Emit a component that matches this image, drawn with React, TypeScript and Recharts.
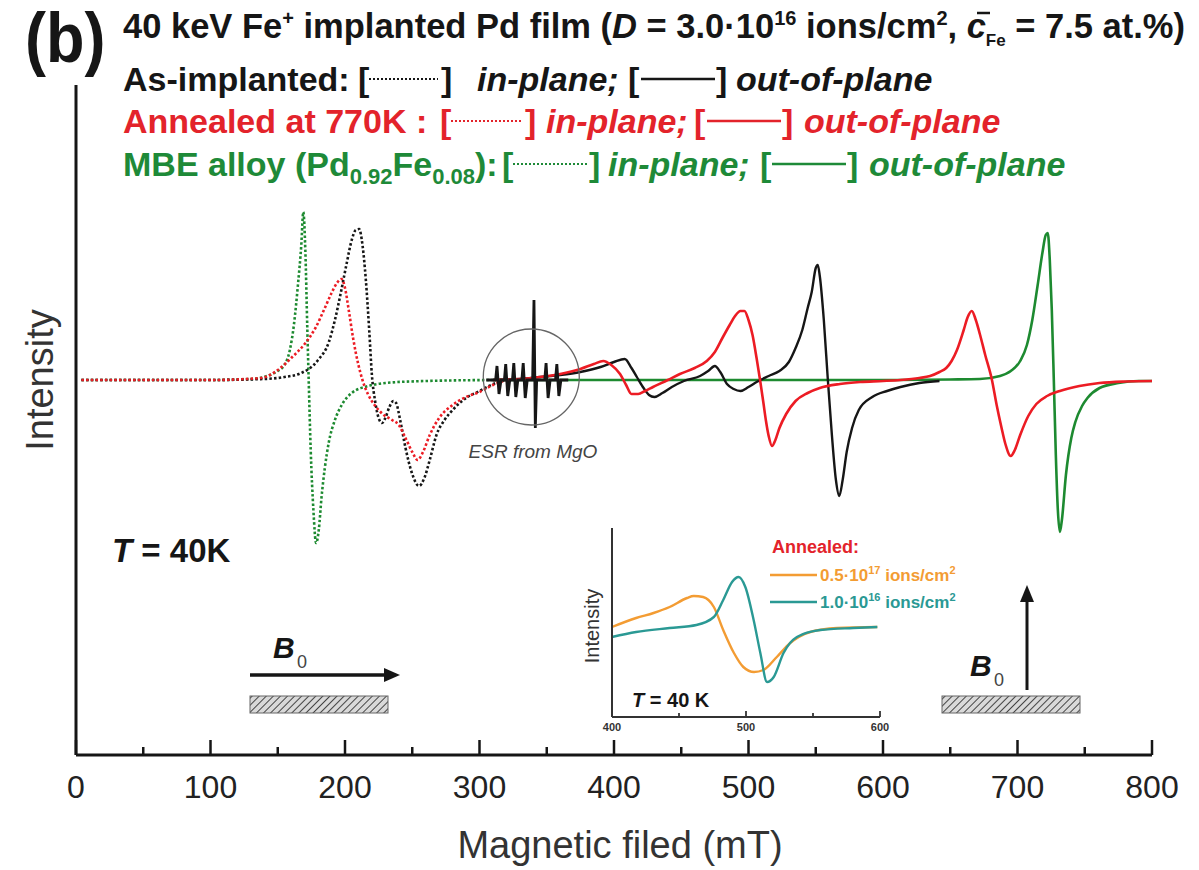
import { LineChart, Line, XAxis, YAxis, ReferenceDot, Customized } from "recharts";

type Pt = { x: number; y: number };
const pts = (rows: number[][]): Pt[] => rows.map(([x, y]) => ({ x, y }));

const FONT = "'Liberation Sans', Arial, Helvetica, sans-serif";
const BLACK = "#161616";
const RED = "#ec1c24";
const GREEN = "#1d8a30";
const RED_TXT = "#e3232b";
const GREEN_TXT = "#1e8a38";
const ORANGE = "#f39c33";
const TEAL = "#2a9994";

// field axis (mT)
const FIELD_TICKS = [0, 50, 100, 150, 200, 250, 300, 350, 400, 450, 500, 550, 600, 650, 700, 750, 800];
const INSET_TICKS = [400, 450, 500, 550, 600];

// as-implanted, in-plane (dotted black)
const asImplantedIn = pts([
  [4, 0], [100, 0], [140, 1], [155, 3], [167.5, 7], [180, 20], [188, 38], [192.5, 60], [197, 88],
  [201, 115], [205, 140], [208, 150], [210.5, 151], [213, 135], [215.5, 100], [218, 50], [220, 5],
  [222.5, -22], [225, -38], [227.5, -43], [230, -38], [233, -27], [236, -21], [238, -23], [241, -40],
  [245, -68], [250, -94], [255, -106], [259, -98], [263, -80], [268, -55], [274, -40], [280, -30],
  [290, -18], [300, -11], [312, -3], [320, 0],
]);

// annealed at 770K, in-plane (dotted red)
const annealedIn = pts([
  [4, 0], [100, 0], [137.5, 2], [150, 10], [160, 22], [170, 36], [178, 52], [185, 72], [190, 87],
  [194, 97], [197.5, 101], [200, 92], [203, 68], [206, 42], [210, 15], [213, 0], [217, -14],
  [222, -25], [228, -34], [235, -40], [240, -45], [245, -58], [250, -72], [254, -80], [258, -72],
  [263, -55], [270, -38], [280, -25], [290, -17], [300, -12], [310, -5], [320, 0],
]);

// MBE alloy, in-plane (dotted green)
const mbeIn = pts([
  [4, 0], [100, 0], [130, 1], [142, 4], [150, 9], [155, 15], [159, 30], [162, 55], [165, 95],
  [167.5, 135], [169, 168], [170.5, 130], [172, 50], [173, 0], [174.5, -70], [176.5, -130],
  [178.5, -163], [180.5, -150], [182.5, -118], [185, -88], [188, -62], [192.5, -40], [198, -24],
  [205, -13], [217.5, -6], [230, -3], [260, -1], [310, 0],
]);

// as-implanted, out-of-plane (solid black)
const asImplantedOut = pts([
  [310, 0], [330, 1], [345, 3], [360, 5], [375, 8], [390, 13], [400, 18], [408, 21], [413, 12],
  [417, 3], [422, -8], [426, -15], [430, -17], [436, -13], [443, -7], [452, -1], [464, 4], [470, 9],
  [475, 14], [479, 8], [484, -4], [489, -9], [494, -11], [500, -7], [506, -2], [515, 4], [523, 9],
  [530, 18], [535, 32], [540, 50], [544, 72], [547, 88], [550, 112], [551.5, 115], [553, 104],
  [556, 60], [559, 0], [562, -55], [565, -100], [567.5, -116], [570, -100], [573, -72], [577, -48],
  [582, -30], [592, -17], [603, -11], [613, -7], [627, -3], [642, -1],
]);

// annealed at 770K, out-of-plane (solid red)
const annealedOut = pts([
  [310, 0], [330, 1], [345, 3], [360, 6], [375, 11], [385, 16], [392, 19], [398, 15], [404.5, 6],
  [409, -5], [413, -14], [418, -14], [423, -11], [429, -7], [440, 0], [449, 6], [460, 12], [469, 19],
  [475, 28], [481, 43], [486, 55], [490, 64], [494, 69], [497, 69], [500, 60], [503, 45], [506, 22],
  [508.6, 0], [511, -22], [513, -41], [515, -56], [517.5, -66], [520, -60], [523, -48], [528, -34],
  [535, -21], [544, -13], [553, -8], [568, -4], [583, -2], [600, -1], [613, 0], [627, 2], [635, 4],
  [642, 8], [647, 12], [651, 19], [655, 30], [660, 50], [663, 63], [666, 69], [669, 60], [672, 46],
  [676, 25], [681, 0], [684.5, -25], [688, -47], [691, -64], [695, -76], [698, -70], [702, -55],
  [708, -36], [714, -24], [722, -16], [731.5, -11], [746, -6], [761, -3], [780, -1.5], [800, -1],
]);

// MBE alloy, out-of-plane (solid green)
const mbeOut = pts([
  [310, 0], [400, 0], [500, 0], [600, 0], [650, 0.5], [672, 1], [687, 4], [695, 9], [702, 19],
  [707, 35], [711, 60], [715, 95], [718.5, 127], [721, 145], [722.5, 147], [724, 120], [725.5, 70],
  [727, 0], [728.5, -75], [730, -130], [731.5, -152], [733, -140], [736, -95], [740, -58],
  [743, -42], [748, -26], [752, -18], [761, -8], [775, -3], [790, -1], [800, -1],
]);

// ESR lines of the MgO substrate
const mgoLines = pts([
  [305, 0], [312, 0], [313, 14], [314.5, -14], [316, 0], [318.5, 0], [319.5, 16], [321, -16],
  [322.5, 0], [324.5, 0], [325.5, 17], [327, -17], [328.5, 0], [331.5, 0], [332.5, 17], [334, -18],
  [335.5, 0], [339.5, 0], [340.5, 80], [341.5, -48], [342.5, 0], [348.5, 0], [349.5, 17], [351, -18],
  [352.5, 0], [356.5, 0], [357.5, 16], [359, -16], [360.5, 0], [366, 0],
]);

// inset: annealed samples, out-of-plane
const inset05e17 = pts([
  [400, 90], [418, 99], [431, 104], [443, 110], [456, 119], [461, 121], [468, 120], [476, 110],
  [483, 87], [491, 64], [498, 50], [506, 45], [513, 47], [523, 60], [533, 74], [548, 85],
  [568, 89], [598, 90],
]);
const inset10e16 = pts([
  [400, 80], [418, 85], [443, 89], [463, 92], [476, 100], [483, 117], [489.6, 135], [494.5, 140],
  [499.5, 130], [505.7, 97], [510.7, 64], [515.7, 35], [520.7, 40], [528, 64], [538, 80],
  [555.5, 87], [580, 89], [598, 90],
]);

function FieldTick(props: any) {
  const { x, y, payload } = props;
  const major = payload.value % 100 === 0;
  return (
    <g>
      <line x1={x} x2={x} y1={y} y2={y - (major ? 15 : 8)} stroke={BLACK} strokeWidth={2.5} />
      {major && (
        <text x={x} y={y + 43} textAnchor="middle" fontSize={32} fill="#222" fontFamily={FONT}>
          {payload.value}
        </text>
      )}
    </g>
  );
}

function InsetTick(props: any) {
  const { x, y, payload } = props;
  const major = payload.value % 100 === 0;
  return (
    <g>
      <line x1={x} x2={x} y1={y} y2={y - (major ? 6 : 4)} stroke="#333" strokeWidth={1.8} />
      {major && (
        <text x={x} y={y + 14} textAnchor="middle" fontSize={11} fontWeight="bold" fill="#333" fontFamily={FONT}>
          {payload.value}
        </text>
      )}
    </g>
  );
}

function LegendRow({ y, color, xs, children }: { y: number; color: string; xs: number[]; children: any }) {
  const [b1, d0, d1, b2, ip, b3, s0, s1, b4, op] = xs;
  const ly = y - 12;
  return (
    <g fill={color} fontSize={34} fontWeight="bold">
      <text x={123} y={y}>{children}</text>
      <text x={b1} y={y}>[</text>
      <line x1={d0} x2={d1} y1={ly} y2={ly} stroke={color} strokeWidth={2} strokeDasharray="2 2" />
      <text x={b2} y={y}>]</text>
      <text x={ip} y={y} fontStyle="italic">in-plane;</text>
      <text x={b3} y={y}>[</text>
      <line x1={s0} x2={s1} y1={ly} y2={ly} stroke={color} strokeWidth={2.5} />
      <text x={b4} y={y}>]</text>
      <text x={op} y={y} fontStyle="italic">out-of-plane</text>
    </g>
  );
}

function Annotations() {
  return (
    <g fontFamily={FONT}>
      <defs>
        <pattern id="hatch" width="5" height="5" patternUnits="userSpaceOnUse" patternTransform="rotate(45)">
          <rect width="5" height="5" fill="#d9d9d9" />
          <line x1="0" y1="0" x2="0" y2="5" stroke="#444" strokeWidth="2" />
        </pattern>
      </defs>

      <text x={0} y={0} fontSize={70} fontWeight="bold" fill={BLACK} transform="translate(25 62) scale(0.9 1)">
        (b)
      </text>
      <text x={123} y={38} fontSize={34.5} fontWeight="bold" fill={BLACK}>
        40 keV Fe<tspan dy={-13} fontSize={20}>+</tspan>
        <tspan dy={13}> implanted Pd film (</tspan>
        <tspan fontStyle="italic">D</tspan>
        <tspan> = 3.0·10</tspan>
        <tspan dy={-13} fontSize={20}>16</tspan>
        <tspan dy={13}> ions/cm</tspan>
        <tspan dy={-13} fontSize={20}>2</tspan>
        <tspan dy={13}>, </tspan>
        <tspan fontStyle="italic">c</tspan>
        <tspan dy={8} fontSize={17}>Fe</tspan>
        <tspan dy={-8}> = 7.5 at.%)</tspan>
      </text>
      <line x1={977} x2={990} y1={13} y2={13} stroke={BLACK} strokeWidth={2.5} />

      <LegendRow y={91} color={BLACK} xs={[358, 369, 438, 441, 477, 628, 641, 715, 716, 736]}>
        As-implanted:
      </LegendRow>
      <LegendRow y={133} color={RED_TXT} xs={[440, 451, 523, 525, 546, 694, 707, 781, 782, 804]}>
        Annealed at 770K :
      </LegendRow>
      <LegendRow y={176} color={GREEN_TXT} xs={[502, 513, 588, 589, 608, 760, 772, 846, 847, 869]}>
        MBE alloy (Pd<tspan dy={8} fontSize={22}>0.92</tspan>
        <tspan dy={-8}>Fe</tspan>
        <tspan dy={8} fontSize={22}>0.08</tspan>
        <tspan dy={-8}>):</tspan>
      </LegendRow>

      <text x={40} y={380} fontSize={38} fill="#333" textAnchor="middle" dominantBaseline="central" transform="rotate(-90 40 380)">
        Intensity
      </text>
      <text x={620} y={858} fontSize={38} fill="#333" textAnchor="middle">
        Magnetic filed (mT)
      </text>

      <text x={533} y={458} fontSize={19} fontStyle="italic" fill="#444" textAnchor="middle">
        ESR from MgO
      </text>

      <text x={112} y={562} fontSize={33} fontWeight="bold" fill={BLACK}>
        <tspan fontStyle="italic">T</tspan> = 40K
      </text>

      {/* in-plane geometry */}
      <text x={273} y={658} fontSize={30} fontWeight="bold" fontStyle="italic" fill={BLACK}>B</text>
      <text x={297} y={668} fontSize={18} fill="#444">0</text>
      <line x1={250} x2={384} y1={675} y2={675} stroke={BLACK} strokeWidth={3.5} />
      <polygon points="384,668 400,675 384,682" fill={BLACK} />
      <rect x={250} y={696} width={138} height={17} fill="url(#hatch)" stroke="#666" strokeWidth={1} />

      {/* out-of-plane geometry */}
      <text x={970} y={676} fontSize={30} fontWeight="bold" fontStyle="italic" fill={BLACK}>B</text>
      <text x={994} y={686} fontSize={18} fill="#444">0</text>
      <line x1={1027} x2={1027} y1={690} y2={600} stroke={BLACK} strokeWidth={3} />
      <polygon points="1020,602 1027,585 1034,602" fill={BLACK} />
      <rect x={942} y={696} width={138} height={17} fill="url(#hatch)" stroke="#666" strokeWidth={1} />
    </g>
  );
}

function InsetNotes() {
  return (
    <g fontFamily={FONT} transform="translate(-570 -510)">
      <text x={592} y={626} fontSize={20} fill="#333" textAnchor="middle" dominantBaseline="central" transform="rotate(-90 592 626)">
        Intensity
      </text>
      <text x={632} y={707} fontSize={20} fontWeight="bold" fill={BLACK}>
        <tspan fontStyle="italic">T</tspan> = 40 K
      </text>
      <text x={772} y={553} fontSize={18} fontWeight="bold" fill={RED_TXT}>Annealed:</text>
      <line x1={770} x2={817} y1={575} y2={575} stroke={ORANGE} strokeWidth={2.5} />
      <text x={820} y={581} fontSize={17} fontWeight="bold" fill={ORANGE}>
        0.5·10<tspan dy={-7} fontSize={11}>17</tspan>
        <tspan dy={7}> ions/cm</tspan>
        <tspan dy={-7} fontSize={11}>2</tspan>
      </text>
      <line x1={770} x2={817} y1={602} y2={602} stroke={TEAL} strokeWidth={2.5} />
      <text x={820} y={608} fontSize={17} fontWeight="bold" fill={TEAL}>
        1.0·10<tspan dy={-7} fontSize={11}>16</tspan>
        <tspan dy={7}> ions/cm</tspan>
        <tspan dy={-7} fontSize={11}>2</tspan>
      </text>
    </g>
  );
}

const dotted = { strokeWidth: 2.6, strokeDasharray: "2.5 2.2" };

export default function App() {
  return (
    <div style={{ position: "absolute", left: 0, top: 0, width: 1199, height: 870, background: "#fff" }}>
      <LineChart width={1199} height={870} margin={{ top: 85, right: 47, bottom: 0, left: 75 }}>
        <XAxis
          type="number"
          dataKey="x"
          domain={[0, 800]}
          ticks={FIELD_TICKS}
          interval={0}
          height={115}
          tickSize={0}
          tickMargin={0}
          tickLine={false}
          axisLine={{ stroke: BLACK, strokeWidth: 3 }}
          tick={<FieldTick />}
        />
        <YAxis type="number" dataKey="y" domain={[-375, 295]} width={1} tick={false} tickLine={false} axisLine={{ stroke: BLACK, strokeWidth: 3 }} />
        <Line data={mbeIn} dataKey="y" type="monotone" stroke={GREEN} {...dotted} dot={false} isAnimationActive={false} />
        <Line data={asImplantedIn} dataKey="y" type="monotone" stroke={BLACK} {...dotted} dot={false} isAnimationActive={false} />
        <Line data={annealedIn} dataKey="y" type="monotone" stroke={RED} {...dotted} dot={false} isAnimationActive={false} />
        <Line data={mbeOut} dataKey="y" type="monotone" stroke={GREEN} strokeWidth={2.6} dot={false} isAnimationActive={false} />
        <Line data={asImplantedOut} dataKey="y" type="monotone" stroke={BLACK} strokeWidth={2.4} dot={false} isAnimationActive={false} />
        <Line data={annealedOut} dataKey="y" type="monotone" stroke={RED} strokeWidth={2.6} dot={false} isAnimationActive={false} />
        <Line data={mgoLines} dataKey="y" type="linear" stroke={BLACK} strokeWidth={2.8} dot={false} isAnimationActive={false} />
        <ReferenceDot x={338.5} y={3} r={48} fill="none" stroke="#666" strokeWidth={1.3} />
        <Customized component={Annotations} />
      </LineChart>

      <div style={{ position: "absolute", left: 570, top: 510 }}>
        <LineChart width={430} height={230} margin={{ top: 18, right: 120, bottom: 0, left: 41 }}>
          <XAxis
            type="number"
            dataKey="x"
            domain={[400, 600]}
            ticks={INSET_TICKS}
            interval={0}
            height={23}
            tickSize={0}
            tickMargin={0}
            tickLine={false}
            axisLine={{ stroke: "#333", strokeWidth: 2 }}
            tick={<InsetTick />}
          />
          <YAxis type="number" dataKey="y" domain={[0, 189]} width={1} tick={false} tickLine={false} axisLine={{ stroke: "#333", strokeWidth: 2 }} />
          <Line data={inset05e17} dataKey="y" type="monotone" stroke={ORANGE} strokeWidth={2.4} dot={false} isAnimationActive={false} />
          <Line data={inset10e16} dataKey="y" type="monotone" stroke={TEAL} strokeWidth={2.4} dot={false} isAnimationActive={false} />
          <Customized component={InsetNotes} />
        </LineChart>
      </div>
    </div>
  );
}
